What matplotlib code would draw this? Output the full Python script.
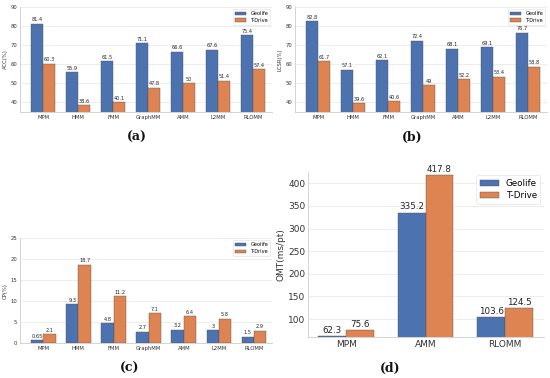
import matplotlib
matplotlib.use("Agg")
import matplotlib.pyplot as plt
import numpy as np

methods7 = ["MPM", "HMM", "FMM", "GraphMM", "AMM", "L2MM", "RLOMM"]
methods3 = ["MPM", "AMM", "RLOMM"]
series = ["Geolife", "T-Drive"]

acc_geolife = [81.4, 55.9, 61.5, 71.1, 66.6, 67.6, 75.4]
acc_tdrive = [60.3, 38.6, 40.1, 47.8, 50, 51.4, 57.4]
lcsr_geolife = [82.8, 57.1, 62.1, 72.4, 68.1, 69.1, 76.7]
lcsr_tdrive = [61.7, 39.6, 40.6, 49, 52.2, 53.4, 58.8]
cp_geolife = [0.65, 9.3, 4.8, 2.7, 3.2, 3, 1.5]
cp_tdrive = [2.1, 18.7, 11.2, 7.1, 6.4, 5.8, 2.9]
omt_geolife = [62.3, 335.2, 103.6]
omt_tdrive = [75.6, 417.8, 124.5]

BLUE = "#4C72B0"
ORANGE = "#DD8452"

fig = plt.figure(figsize=(5.5, 3.78), dpi=100)


def panel(rect, cats, g, t, ylabel, ylim, yticks, xlim, fs, lfs, vfs, legend_fs, lspace):
    ax = fig.add_axes(rect)
    ax.set_facecolor("white")
    x = np.arange(len(cats))
    w = 0.35
    b1 = ax.bar(x - w / 2, g, w, color=BLUE, edgecolor="#555555", linewidth=0.3, label=series[0], zorder=3)
    b2 = ax.bar(x + w / 2, t, w, color=ORANGE, edgecolor="#555555", linewidth=0.3, label=series[1], zorder=3)
    for bars, vals in ((b1, g), (b2, t)):
        for r, v in zip(bars, vals):
            ax.annotate(f"{v}", (r.get_x() + r.get_width() / 2, r.get_height()),
                        xytext=(0, 1), textcoords="offset points", ha="center", va="bottom",
                        fontsize=vfs, color="#222222", zorder=4)
    ax.set_xticks(x)
    ax.set_xticklabels(cats, fontsize=fs, color="#333333")
    ax.set_yticks(yticks)
    ax.tick_params(axis="y", labelsize=fs, colors="#333333", length=0, pad=2)
    ax.tick_params(axis="x", length=0, pad=2)
    ax.set_ylim(*ylim)
    ax.set_xlim(*xlim)
    ax.set_ylabel(ylabel, fontsize=lfs, color="#333333", labelpad=2)
    ax.yaxis.grid(True, color="#e6e6e6", linewidth=0.5, zorder=0)
    ax.xaxis.grid(False)
    for s in ("top", "right"):
        ax.spines[s].set_visible(False)
    for s in ("left", "bottom"):
        ax.spines[s].set_color("#cccccc")
        ax.spines[s].set_linewidth(0.6)
    leg = ax.legend(loc="upper right", fontsize=legend_fs, frameon=True, framealpha=1,
                    edgecolor="#dddddd", fancybox=True, handlelength=2.2, borderpad=0.4,
                    labelspacing=lspace, borderaxespad=0.4)
    leg.set_zorder(10)
    leg.get_frame().set_linewidth(0.4)
    return ax


panel([0.036, 0.704, 0.459, 0.277], methods7, acc_geolife, acc_tdrive, "ACC(%)",
      (35, 90), [40, 50, 60, 70, 80, 90], (-0.67, 6.55), 3.8, 3.8, 3.6, 3.6, 0.35)
panel([0.536, 0.704, 0.459, 0.277], methods7, lcsr_geolife, lcsr_tdrive, "LCSR(%)",
      (35, 90), [40, 50, 60, 70, 80, 90], (-0.67, 6.55), 3.8, 3.8, 3.6, 3.6, 0.35)
panel([0.036, 0.0926, 0.459, 0.277], methods7, cp_geolife, cp_tdrive, "CP(%)",
      (0, 25), [0, 5, 10, 15, 20, 25], (-0.67, 6.52), 3.8, 3.8, 3.6, 3.6, 0.35)
panel([0.56, 0.108, 0.429, 0.437], methods3, omt_geolife, omt_tdrive, "OMT(ms/pt)",
      (60, 425), [100, 150, 200, 250, 300, 350, 400], (-0.48, 2.49), 6.5, 6.5, 6.3, 6.3, 0.4)

cap = dict(fontsize=9, fontweight="bold", family="DejaVu Serif", ha="center", va="center", color="#111111")
fig.text(137 / 550, 1 - 137 / 378, "(a)", **cap)
fig.text(412 / 550, 1 - 137 / 378, "(b)", **cap)
fig.text(130 / 550, 1 - 368 / 378, "(c)", **cap)
fig.text(390 / 550, 1 - 368 / 378, "(d)", **cap)

fig.savefig("out.png", dpi=100, facecolor="white")
